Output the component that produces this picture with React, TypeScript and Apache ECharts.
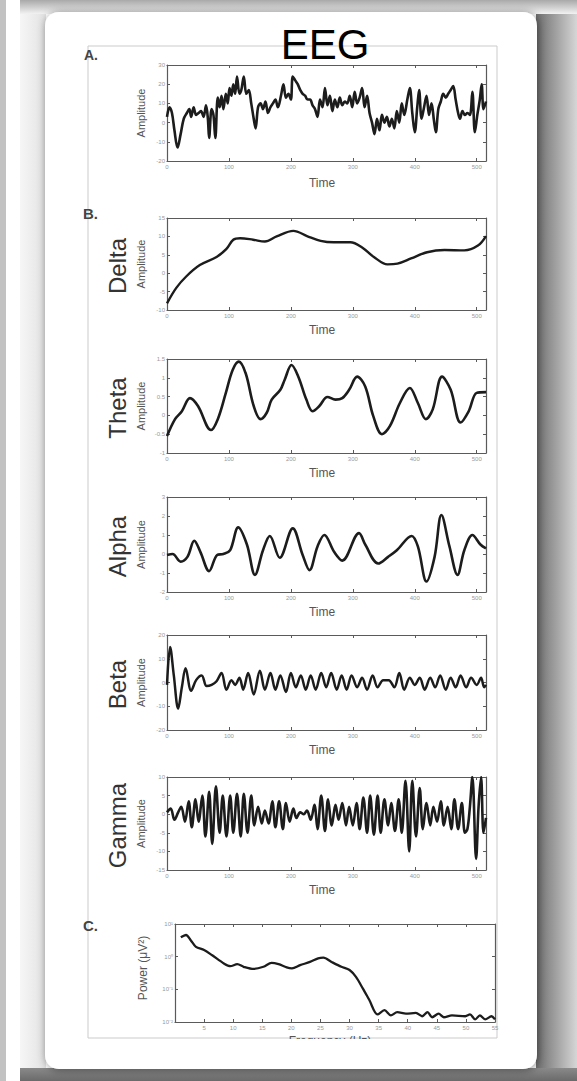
import React, { useEffect, useRef } from 'react';
import * as echarts from 'echarts';

// ---------- DATA ----------
const timeTicks = [0, 100, 200, 300, 400, 500];

const eegTime = [0, 4, 8, 12, 17, 22, 27, 32, 36, 39, 43, 47, 51, 55, 59, 63, 66, 68, 72, 75, 78, 82, 85, 88, 91, 95, 98, 101, 104, 107, 110, 113, 117, 120, 124, 128, 132, 136, 140, 143, 147, 151, 155, 159, 163, 167, 171, 175, 179, 184, 188, 192, 196, 200, 203, 207, 211, 215, 219, 223, 227, 231, 235, 239, 243, 247, 251, 255, 259, 263, 267, 271, 275, 279, 283, 287, 291, 295, 299, 303, 307, 311, 315, 319, 323, 327, 331, 335, 339, 343, 347, 351, 355, 359, 363, 367, 371, 375, 379, 383, 388, 392, 396, 400, 404, 407, 411, 415, 419, 423, 427, 431, 434, 438, 442, 446, 450, 454, 458, 462, 466, 470, 473, 477, 481, 485, 489, 493, 497, 501, 505, 508, 511, 515];
const eegAmp = [3, 8, 5, -4, -13, -6, 2, 5, 7, 3, 8, 4, 5, 6, 3, 9, 2, -8, 7, 4, -8, 13, 8, 14, 7, 15, 10, 18, 14, 20, 15, 24, 15, 17, 24, 15, 17, 10, 2, -3, 8, 10, 7, 11, 5, 8, 10, 12, 8, 14, 20, 13, 15, 12, 24, 22, 20, 17, 15, 14, 12, 12, 9, 7, 3, 12, 8, 18, 9, 14, 6, 12, 8, 13, 9, 11, 10, 14, 8, 16, 10, 13, 18, 8, 14, 5, 0, -6, 2, -4, 4, 0, 3, -2, 2, -3, 6, 0, 10, 4, 12, 18, 5, -5, 8, 17, 2, 8, 14, 4, 10, 1, -5, 7, 11, 15, 13, 15, 17, 19, 12, 5, 2, 6, 4, 5, 4, 16, -5, 4, 12, 20, 7, 11];

const deltaTime = [0, 15, 31, 53, 80, 96, 107, 118, 139, 158, 177, 204, 226, 248, 269, 296, 315, 334, 356, 372, 394, 420, 448, 480, 502, 515];
const deltaAmp = [-8.2, -4, -0.9, 2.2, 4.4, 6.6, 9.1, 9.5, 9.1, 8.6, 10, 11.5, 10.1, 8.8, 8.4, 8.4, 7.0, 4.4, 2.4, 2.6, 4, 5.7, 6.3, 6.2, 7.5, 10.1];

const thetaTime = [0, 13, 24, 37, 50, 71, 82, 95, 106, 116, 127, 140, 151, 161, 169, 183, 190, 201, 212, 225, 235, 246, 259, 272, 283, 294, 307, 320, 333, 347, 360, 376, 392, 405, 418, 429, 444, 458, 474, 487, 500, 515];
const thetaAmp = [-0.55, -0.1, 0.11, 0.46, 0.25, -0.39, -0.1, 0.6, 1.21, 1.43, 1.12, 0.25, -0.1, 0.07, 0.42, 0.68, 0.95, 1.34, 1.03, 0.42, 0.11, 0.25, 0.49, 0.42, 0.46, 0.68, 1.03, 0.77, -0.02, -0.5, -0.28, 0.33, 0.73, 0.33, -0.1, 0.16, 1.03, 0.68, -0.19, 0.11, 0.6, 0.62];

const alphaTime = [0, 9, 22, 33, 44, 54, 68, 81, 91, 102, 115, 129, 142, 155, 166, 182, 203, 219, 230, 243, 254, 270, 283, 310, 320, 341, 357, 371, 395, 405, 419, 432, 443, 456, 469, 480, 493, 506, 515];
const alphaAmp = [-0.05, 0, -0.4, -0.15, 0.7, 0.1, -0.9, -0.05, 0, 0.2, 1.4, 0.5, -1.1, 0.2, 0.95, -0.2, 1.35, -0.05, -0.85, 0.4, 1.0, 0.1, -0.35, 1.1, 0.5, -0.5, -0.15, 0.2, 0.95, 0.4, -1.45, -0.15, 2.05, 0.4, -1.1, 0.2, 1.0, 0.5, 0.3];

const betaTime = [0, 5, 11, 18, 24, 30, 39, 47, 56, 64, 72, 80, 88, 96, 104, 110, 117, 123, 131, 140, 150, 158, 167, 175, 183, 192, 200, 208, 216, 224, 232, 240, 249, 257, 265, 274, 282, 290, 298, 307, 315, 323, 332, 340, 349, 358, 367, 375, 383, 392, 400, 408, 416, 425, 433, 441, 450, 458, 466, 474, 483, 491, 500, 507, 512, 515];
const betaAmp = [-1, 15, 3, -11, -2, 6, -3.5, 1, 3, -1.5, -1, 0.5, 4, -3, 1, -1, 2, -3, 4, -5, 5, -3, 4, -3, 3, -4, 4, -2, 3, -3, 3, -3, 4, -2, 4, -3, 3, -3, 3, -2, 2, -3, 3, -2, 1, 1, -2, 4, -3, 2, -1, 2, -3, 2, -2, 3, -3, 2, -2, 3, -2, 2, -1, 2, -2, -1];

const gammaTime = [0, 6, 12, 18, 23, 29, 35, 40, 46, 51, 57, 62, 68, 73, 79, 85, 90, 96, 102, 107, 113, 119, 124, 130, 136, 141, 147, 153, 158, 164, 170, 175, 181, 187, 192, 198, 204, 209, 215, 221, 226, 232, 238, 243, 249, 255, 260, 266, 272, 277, 283, 289, 294, 300, 306, 311, 317, 323, 328, 334, 340, 345, 351, 357, 362, 368, 374, 379, 385, 391, 396, 402, 408, 413, 419, 425, 430, 436, 442, 447, 453, 459, 464, 470, 476, 481, 485, 489, 493, 499, 503, 507, 511, 515];
const gammaAmp = [0.5, 1.5, -1.5, 0.5, 2, -2, 3.5, -3.5, 4, -2, 5, -6, 6, -8, 7.5, -5, 5, -6, 5, -5, 5.5, -6, 5.5, -5, 5, -3, 2, -2.5, 1, -2.5, 3.5, -3.5, 3.5, -4, 3, -2, 1.5, -1, 0.5, 0, 1, -1.5, 2.5, -4, 5, -4.5, 4, -3, 2.5, -1.5, 3, -3, 2, -3, 3, -4, 4.5, -5, 5, -5.5, 5, -5, 4, -3, 3, -4.5, 4, -5, 9, -10, 9, -6, 7, -4, 3, -3, 2, -2, 3.5, -3, 2, -4, 4, -4, 3, -5, -4, 2, 10, -12, 2, 10, -5, -1];

const freqHz = [1, 1.9, 2.7, 3.6, 5, 6.4, 8.4, 9.5, 10.7, 11.8, 13.5, 15.2, 16.6, 17.8, 19.2, 20.1, 21.5, 23.2, 24.6, 25.5, 26.9, 28.6, 30, 31.1, 32.3, 33.4, 34.8, 36, 37.1, 38.2, 39.7, 41.4, 42.5, 43.4, 44.2, 45.3, 46.2, 47.6, 49.9, 50.7, 51.6, 52.4, 53.3, 54.4, 55];
const powerVal = [3.9, 4.6, 3.2, 2.0, 1.6, 1.1, 0.62, 0.51, 0.59, 0.49, 0.42, 0.49, 0.65, 0.59, 0.47, 0.44, 0.55, 0.69, 0.89, 0.93, 0.69, 0.49, 0.39, 0.24, 0.105, 0.047, 0.017, 0.023, 0.016, 0.02, 0.018, 0.019, 0.015, 0.02, 0.014, 0.018, 0.014, 0.016, 0.015, 0.017, 0.012, 0.016, 0.012, 0.015, 0.012];

const bandNames = ['Delta', 'Theta', 'Alpha', 'Beta', 'Gamma'];

// ---------- helpers ----------
const pairs = (t: number[], v: number[]) => t.map((x, i) => [x, v[i]]);
const FONT = 'Liberation Sans, Arial, sans-serif';
const AXIS_COLOR = '#5a5a5a';
const LINE_COLOR = '#1c1c1c';

export default function App() {
  const ref = useRef<HTMLDivElement>(null);

  useEffect(() => {
    document.body.style.margin = '0';
    if (!ref.current) return;
    const chart = echarts.init(ref.current, null, { renderer: 'svg' });

    const panels = [
      { top: 65, height: 96, min: -20, max: 30, interval: 10, data: pairs(eegTime, eegAmp), lw: 2.6 },
      { top: 218, height: 92, min: -10, max: 15, interval: 5, data: pairs(deltaTime, deltaAmp), lw: 2.4 },
      { top: 359, height: 94, min: -1, max: 1.5, interval: 0.5, data: pairs(thetaTime, thetaAmp), lw: 2.6 },
      { top: 497, height: 95, min: -2, max: 3, interval: 1, data: pairs(alphaTime, alphaAmp), lw: 2.6 },
      { top: 635, height: 95, min: -20, max: 20, interval: 10, data: pairs(betaTime, betaAmp), lw: 2.5 },
      { top: 777, height: 93, min: -15, max: 10, interval: 5, data: pairs(gammaTime, gammaAmp), lw: 2.6 },
    ];

    const grids: any[] = [];
    const xAxes: any[] = [];
    const yAxes: any[] = [];
    const series: any[] = [];

    const tickStyle = { show: true, inside: true, length: 3, lineStyle: { color: AXIS_COLOR, width: 1 } };
    const lineStyleAx = { show: true, onZero: false, lineStyle: { color: AXIS_COLOR, width: 1.2 } };
    const labelStyle = { fontSize: 6, color: '#999', fontFamily: FONT };

    panels.forEach((p, i) => {
      grids.push({ left: 167, top: p.top, width: 319, height: p.height, show: false });
      const xBase = {
        type: 'value', gridIndex: i, min: 0, max: 515, interval: 100,
        axisLine: lineStyleAx, axisTick: tickStyle, splitLine: { show: false },
      };
      xAxes.push({ ...xBase, position: 'bottom', axisLabel: { ...labelStyle, margin: 3, showMaxLabel: false } });
      xAxes.push({ ...xBase, position: 'top', axisLabel: { show: false } });
      const yBase = {
        type: 'value', gridIndex: i, min: p.min, max: p.max, interval: p.interval,
        axisLine: lineStyleAx, axisTick: tickStyle, splitLine: { show: false },
      };
      yAxes.push({ ...yBase, position: 'left', axisLabel: { ...labelStyle, margin: 2 } });
      yAxes.push({ ...yBase, position: 'right', axisLabel: { show: false } });
      series.push({
        type: 'line', xAxisIndex: 2 * i, yAxisIndex: 2 * i, data: p.data,
        showSymbol: false, smooth: 0.35, clip: true,
        lineStyle: { color: LINE_COLOR, width: p.lw },
      });
    });

    // Panel C: power spectrum (log scale)
    const ci = panels.length;
    grids.push({ left: 175, top: 924, width: 320, height: 98, show: false });
    const cxBase = {
      type: 'value', gridIndex: ci, min: 0, max: 55, interval: 5,
      axisLine: lineStyleAx, axisTick: tickStyle, splitLine: { show: false },
    };
    xAxes.push({ ...cxBase, position: 'bottom', axisLabel: { ...labelStyle, margin: 3, formatter: (v: number) => (v === 0 ? '' : String(v)) } });
    xAxes.push({ ...cxBase, position: 'top', axisLabel: { show: false } });
    const sup: Record<string, string> = { '-': '⁻', '0': '⁰', '1': '¹', '2': '²', '3': '³' };
    const cyBase = {
      type: 'log', logBase: 10, gridIndex: ci, min: 0.01, max: 10,
      axisLine: lineStyleAx, axisTick: tickStyle, splitLine: { show: false },
    };
    yAxes.push({
      ...cyBase, position: 'left',
      axisLabel: {
        ...labelStyle, margin: 2,
        formatter: (v: number) => '10' + String(Math.round(Math.log10(v))).split('').map((c) => sup[c] || c).join(''),
      },
    });
    yAxes.push({ ...cyBase, position: 'right', axisLabel: { show: false } });
    series.push({
      type: 'line', xAxisIndex: 2 * ci, yAxisIndex: 2 * ci, data: pairs(freqHz, powerVal),
      showSymbol: false, smooth: 0.3, clip: true,
      lineStyle: { color: LINE_COLOR, width: 2.3 },
    });

    // ---------- decorations / texts ----------
    const vText = (text: string, x: number, y: number, size: number, color: string) => ({
      type: 'text', x, y, rotation: Math.PI / 2, z: 50,
      style: { text, fontSize: size, fill: color, fontFamily: FONT, align: 'center', verticalAlign: 'middle' },
    });
    const hText = (text: string, x: number, y: number, size: number, color: string, weight = 'normal') => ({
      type: 'text', x, y, z: 50,
      style: { text, fontSize: size, fill: color, fontFamily: FONT, fontWeight: weight, align: 'center', verticalAlign: 'middle' },
    });

    const graphic: any[] = [
      // page backdrop
      { type: 'rect', z: -20, shape: { x: 0, y: 0, width: 6, height: 1081 }, style: { fill: '#c2c2c2' } },
      { type: 'rect', z: -20, shape: { x: 20, y: 0, width: 557, height: 14 },
        style: { fill: new echarts.graphic.LinearGradient(0, 0, 0, 1, [{ offset: 0, color: '#a9a9a9' }, { offset: 1, color: '#f2f2f2' }]) } },
      { type: 'rect', z: -20, shape: { x: 20, y: 14, width: 26, height: 1067 },
        style: { fill: new echarts.graphic.LinearGradient(0, 0, 1, 0, [{ offset: 0, color: '#f6f6f6' }, { offset: 1, color: '#e2e2e2' }]) } },
      { type: 'rect', z: -20, shape: { x: 536, y: 14, width: 41, height: 1067 },
        style: { fill: new echarts.graphic.LinearGradient(0, 0, 1, 0, [{ offset: 0, color: '#6e6e6e' }, { offset: 1, color: '#d6d6d6' }]) } },
      { type: 'rect', z: -19, shape: { x: 20, y: 1068, width: 557, height: 13 },
        style: { fill: new echarts.graphic.LinearGradient(0, 0, 0, 1, [{ offset: 0, color: '#8a8a8a' }, { offset: 1, color: '#6a6a6a' }]) } },
      // white card
      { type: 'rect', z: -15, shape: { x: 45, y: 12, width: 492, height: 1057, r: 14 },
        style: { fill: '#ffffff', shadowBlur: 8, shadowColor: 'rgba(0,0,0,0.45)', shadowOffsetX: 1, shadowOffsetY: 1 } },
      // inner figure frame
      { type: 'rect', z: -10, shape: { x: 88, y: 46, width: 409, height: 992 },
        style: { fill: 'none', stroke: '#cbcbcb', lineWidth: 1 } },
      // cover below the frequency label (clipped look)
      { type: 'rect', z: 60, shape: { x: 150, y: 1039, width: 340, height: 12 }, style: { fill: '#ffffff' } },
      // title
      hText('EEG', 325, 44, 42, '#000000'),
      // panel letters
      { type: 'text', x: 84, y: 55, z: 50, style: { text: 'A.', fontSize: 14, fontWeight: 'bold', fill: '#444', fontFamily: FONT, verticalAlign: 'middle' } },
      { type: 'text', x: 83, y: 213, z: 50, style: { text: 'B.', fontSize: 15, fontWeight: 'bold', fill: '#444', fontFamily: FONT, verticalAlign: 'middle' } },
      { type: 'text', x: 83, y: 925, z: 50, style: { text: 'C.', fontSize: 15, fontWeight: 'bold', fill: '#444', fontFamily: FONT, verticalAlign: 'middle' } },
      // axis names
      hText('Time', 322, 183, 12, '#555'),
      hText('Frequency (Hz)', 330, 1041, 12, '#555'),
      vText('Power (μV²)', 143, 968, 12, '#555'),
    ];
    panels.forEach((p, i) => {
      graphic.push(vText('Amplitude', 141, p.top + p.height / 2, 11, '#555'));
      if (i > 0) {
        graphic.push(hText('Time', 322, p.top + p.height + 20, 12, '#555'));
        graphic.push(vText(bandNames[i - 1], 117, p.top + p.height / 2 + 2, 24, '#333'));
      }
    });

    chart.setOption({
      animation: false,
      backgroundColor: '#ffffff',
      grid: grids,
      xAxis: xAxes,
      yAxis: yAxes,
      series,
      graphic: { elements: graphic },
    });

    return () => chart.dispose();
  }, []);

  return <div ref={ref} style={{ width: 577, height: 1081 }} />;
}
